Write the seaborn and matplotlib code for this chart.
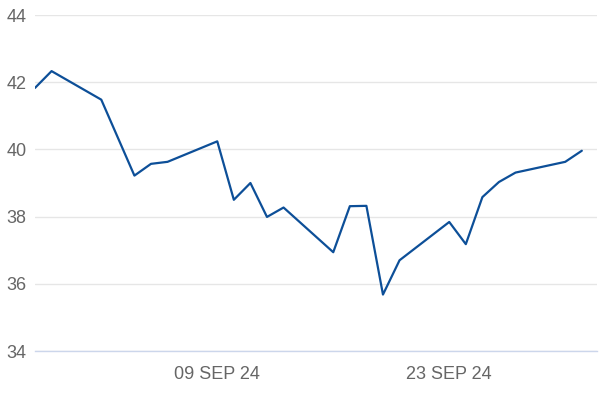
import matplotlib
matplotlib.use("Agg")
import matplotlib.pyplot as plt
import matplotlib.dates as mdates
import pandas as pd
import seaborn as sns

# trading days
dates = ["2024-08-29", "2024-08-30", "2024-09-02", "2024-09-04", "2024-09-05",
         "2024-09-06", "2024-09-09", "2024-09-10", "2024-09-11", "2024-09-12",
         "2024-09-13", "2024-09-16", "2024-09-17", "2024-09-18", "2024-09-19",
         "2024-09-20", "2024-09-23", "2024-09-24", "2024-09-25", "2024-09-26",
         "2024-09-27", "2024-09-30", "2024-10-01"]
prices = [41.83, 42.33, 41.48, 39.22, 39.57,
          39.63, 40.24, 38.50, 39.00, 37.99,
          38.27, 36.94, 38.31, 38.32, 35.68,
          36.70, 37.84, 37.18, 38.58, 39.03,
          39.31, 39.63, 39.96]
y_ticks = [34, 36, 38, 40, 42, 44]
x_ticks = ["2024-09-09", "2024-09-23"]

df = pd.DataFrame({"date": pd.to_datetime(dates), "price": prices})

sns.set_style("white")
plt.rcParams["font.family"] = ["Liberation Sans", "DejaVu Sans"]

fig = plt.figure(figsize=(6, 4), dpi=100)
ax = fig.add_axes([35 / 600, 49 / 400, 562 / 600, 336 / 400])

sns.lineplot(data=df, x="date", y="price", ax=ax, color="#0d4f98", linewidth=1.6)

ax.set_xlim(pd.Timestamp("2024-08-29"), pd.Timestamp("2024-10-01 22:00"))
ax.set_ylim(34, 44)
ax.set_yticks(y_ticks)
ax.set_xticks(pd.to_datetime(x_ticks))
ax.xaxis.set_major_formatter(mdates.DateFormatter("%d %b %y"))
ax.set_xticklabels([pd.Timestamp(d).strftime("%d %b %y").upper() for d in x_ticks])

ax.grid(axis="y", color="#e6e6e6", linewidth=1)
ax.grid(axis="x", visible=False)
for side in ["top", "right", "left"]:
    ax.spines[side].set_visible(False)
ax.spines["bottom"].set_color("#ccd6eb")
ax.spines["bottom"].set_linewidth(1)

ax.tick_params(axis="y", length=0, pad=6, labelsize=13, labelcolor="#666666")
ax.tick_params(axis="x", length=7, width=1, color="#ccd6eb", pad=4,
               labelsize=13, labelcolor="#666666", direction="out")
ax.set_xlabel("")
ax.set_ylabel("")

fig.savefig("out.png", dpi=100)
